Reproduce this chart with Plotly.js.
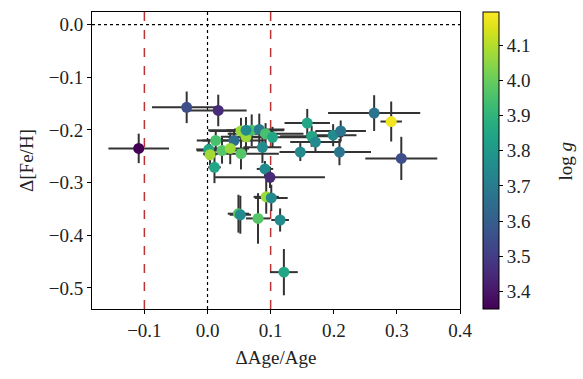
<!DOCTYPE html>
<html>
<head>
<meta charset="utf-8">
<script src="https://cdn.plot.ly/plotly-3.0.1.min.js"></script>
<style>html,body{margin:0;padding:0;background:#fff;}#chart{width:583px;height:379px;}</style>
</head>
<body>
<div id="chart"></div>
<script>
// Relative age difference
const dAge = [-0.109, -0.033, 0.017, 0.013, 0.042, 0.002, 0.004, 0.023, 0.036, 0.053,
              0.011, 0.053, 0.061, 0.070, 0.061, 0.082, 0.092, 0.103, 0.087, 0.091,
              0.099, 0.093, 0.101, 0.049, 0.052, 0.080, 0.115, 0.121, 0.158, 0.165,
              0.171, 0.199, 0.211, 0.147, 0.209, 0.264, 0.291, 0.307];
const dAgeErr = [0.048, 0.055, 0.045, 0.030, 0.050, 0.020, 0.010, 0.040, 0.030, 0.060,
                 0.010, 0.050, 0.040, 0.040, 0.060, 0.040, 0.060, 0.070, 0.030, 0.013,
                 0.087, 0.020, 0.026, 0.017, 0.017, 0.019, 0.014, 0.022, 0.036, 0.050,
                 0.040, 0.037, 0.040, 0.033, 0.050, 0.073, 0.017, 0.057];
// Metallicity difference
const dFeH = [-0.235, -0.157, -0.163, -0.220, -0.220, -0.237, -0.247, -0.239, -0.235, -0.245,
              -0.271, -0.202, -0.213, -0.2005, -0.2005, -0.199, -0.207, -0.214, -0.233, -0.274,
              -0.290, -0.327, -0.329, -0.359, -0.361, -0.368, -0.371, -0.470, -0.187, -0.212,
              -0.223, -0.210, -0.202, -0.242, -0.242, -0.168, -0.184, -0.254];
const dFeHErr = [0.028, 0.030, 0.030, 0.020, 0.020, 0.020, 0.020, 0.025, 0.030, 0.030,
                 0.030, 0.025, 0.030, 0.030, 0.025, 0.030, 0.020, 0.020, 0.030, 0.015,
                 0.020, 0.032, 0.025, 0.036, 0.036, 0.048, 0.022, 0.044, 0.027, 0.020,
                 0.020, 0.021, 0.020, 0.017, 0.025, 0.034, 0.038, 0.041];
// Surface gravity
const logg = [3.35, 3.55, 3.45, 3.95, 3.65, 3.85, 4.08, 3.97, 4.07, 3.97,
              3.85, 4.07, 4.07, 3.95, 3.75, 3.70, 3.95, 3.85, 3.75, 3.75,
              3.45, 4.07, 3.75, 3.97, 3.75, 3.97, 3.75, 3.85, 3.85, 3.85,
              3.75, 3.75, 3.68, 3.75, 3.68, 3.67, 4.18, 3.55];
const xTicks = [-0.1, 0.0, 0.1, 0.2, 0.3, 0.4];
const yTicks = [0.0, -0.1, -0.2, -0.3, -0.4, -0.5];
const cbTicks = [3.4, 3.5, 3.6, 3.7, 3.8, 3.9, 4.0, 4.1];

const FONT = "Liberation Serif, DejaVu Serif, serif";
const trace = {
  type: 'scatter', mode: 'markers',
  x: dAge, y: dFeH,
  error_x: {type: 'data', array: dAgeErr, visible: true, color: '#333333', thickness: 2, width: 0},
  error_y: {type: 'data', array: dFeHErr, visible: true, color: '#333333', thickness: 2, width: 0},
  marker: {
    size: 11, color: logg, colorscale: 'Viridis', cmin: 3.35, cmax: 4.195,
    line: {width: 0},
    colorbar: {
      x: 1.0625, xanchor: 'left', xpad: 0, y: 0.5, yanchor: 'middle', len: 1, lenmode: 'fraction',
      ypad: 0, thickness: 16, outlinewidth: 1, outlinecolor: '#000',
      tickmode: 'array', tickvals: cbTicks, ticktext: cbTicks.map(v => v.toFixed(1)),
      ticks: 'outside', ticklen: 4, tickwidth: 1, tickcolor: '#000',
      tickfont: {family: FONT, size: 19, color: '#222'}
    }
  },
  hoverinfo: 'none', showlegend: false
};

const axisCommon = {
  showgrid: false, zeroline: false, showline: true, mirror: true,
  linecolor: '#000', linewidth: 1, ticks: 'outside', ticklen: 4, tickwidth: 1, tickcolor: '#000',
  tickfont: {family: FONT, size: 19, color: '#222'}
};

const layout = {
  width: 583, height: 379,
  margin: {l: 92, r: 123, t: 12, b: 70},
  paper_bgcolor: '#fff', plot_bgcolor: '#fff',
  xaxis: Object.assign({}, axisCommon, {
    range: [-0.183, 0.4], tickmode: 'array', tickvals: xTicks,
    ticktext: xTicks.map(v => (v < 0 ? '\u2212' : '') + Math.abs(v).toFixed(1)),
    title: {text: '\u0394Age/Age', font: {family: FONT, size: 19, color: '#222'}, standoff: 10}
  }),
  yaxis: Object.assign({}, axisCommon, {
    range: [-0.54, 0.024], tickmode: 'array', tickvals: yTicks,
    ticktext: yTicks.map(v => (v < 0 ? '\u2212' : '') + Math.abs(v).toFixed(1)),
    title: {text: '\u0394[Fe/H]', font: {family: FONT, size: 19, color: '#222'}, standoff: 10}
  }),
  annotations: [
    {text: 'log <i>g</i>', xref: 'paper', yref: 'paper', x: 1.288, y: 0.5,
     xanchor: 'center', yanchor: 'middle', textangle: -90, showarrow: false,
     font: {family: FONT, size: 19, color: '#222'}}
  ],
  shapes: [
    {type: 'line', xref: 'paper', x0: 0, x1: 1, yref: 'y', y0: 0, y1: 0, layer: 'below',
     line: {color: '#000', width: 1.2, dash: 'dot'}},
    {type: 'line', xref: 'x', x0: 0, x1: 0, yref: 'paper', y0: 0, y1: 1, layer: 'below',
     line: {color: '#000', width: 1.2, dash: 'dot'}},
    {type: 'line', xref: 'x', x0: -0.1, x1: -0.1, yref: 'paper', y0: 0, y1: 1, layer: 'below',
     line: {color: '#bb3333', width: 1.5, dash: 'dash'}},
    {type: 'line', xref: 'x', x0: 0.1, x1: 0.1, yref: 'paper', y0: 0, y1: 1, layer: 'below',
     line: {color: '#bb3333', width: 1.5, dash: 'dash'}}
  ]
};

Plotly.newPlot('chart', [trace], layout, {displayModeBar: false, staticPlot: true});
</script>
</body>
</html>
